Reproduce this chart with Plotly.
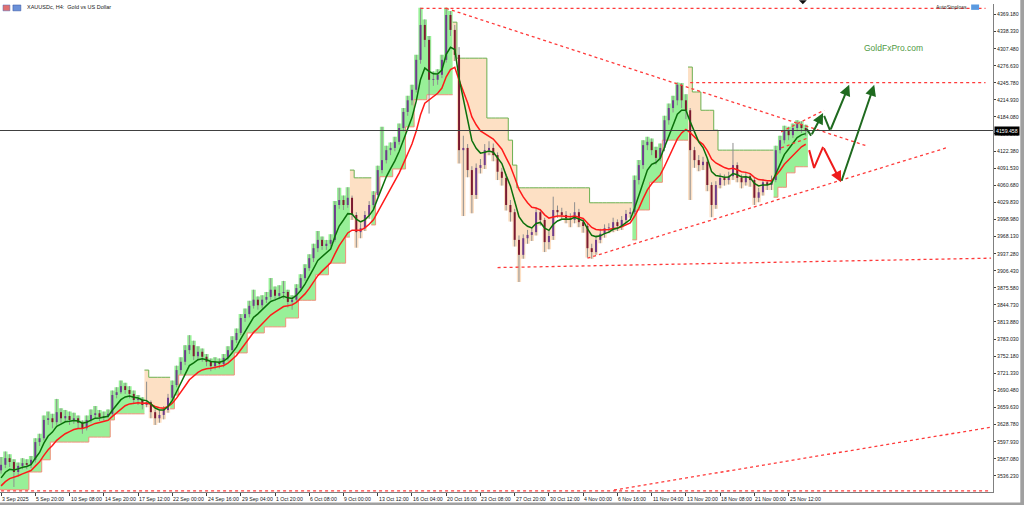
import plotly.graph_objects as go

# ---------------- data ----------------
date_labels = ["3 Sep 2025", "5 Sep 20:00", "10 Sep 08:00", "14 Sep 20:00", "17 Sep 12:00",
               "22 Sep 00:00", "24 Sep 16:00", "29 Sep 04:00", "1 Oct 20:00", "6 Oct 08:00",
               "9 Oct 00:00", "13 Oct 12:00", "16 Oct 04:00", "20 Oct 16:00", "23 Oct 08:00",
               "27 Oct 20:00", "30 Oct 12:00", "4 Nov 00:00", "6 Nov 16:00", "11 Nov 04:00",
               "13 Nov 20:00", "18 Nov 08:00", "21 Nov 00:00", "25 Nov 12:00"]
bars_per_label = 16
bars_per_candle = 2

first_open = 3546.0
close = [3556, 3568, 3561, 3543, 3554, 3559, 3556, 3565, 3597, 3604,
         3637, 3640, 3633, 3651, 3640, 3644, 3637, 3640, 3632, 3622,
         3637, 3646, 3649, 3642, 3644, 3648, 3682, 3687, 3698, 3691,
         3684, 3673, 3673, 3664, 3669, 3651, 3640, 3646, 3655, 3677,
         3700, 3727, 3742, 3763, 3772, 3752, 3760, 3751, 3742, 3734,
         3742, 3738, 3749, 3763, 3781, 3794, 3821, 3828, 3843, 3854,
         3844, 3854, 3859, 3872, 3861, 3866, 3868, 3850, 3854, 3875,
         3893, 3911, 3929, 3947, 3962, 3951, 3955, 3962, 4025, 4034,
         4025, 4038, 4007, 3976, 3983, 4007, 4025, 4043, 4088, 4106,
         4124, 4128, 4139, 4164, 4193, 4214, 4233, 4287, 4350, 4323,
         4251, 4251, 4260, 4287, 4368, 4341, 4296, 4124, 4128, 4088,
         4043, 4092, 4097, 4124, 4128, 4115, 4085, 4074, 4025, 4012,
         3962, 3935, 3965, 3971, 3976, 4012, 3998, 3958, 3969, 4016,
         4012, 4007, 4001, 3998, 4012, 3994, 3987, 3947, 3940, 3962,
         3973, 3983, 3983, 3994, 3987, 3998, 4009, 4012, 4070, 4097,
         4133, 4139, 4124, 4110, 4128, 4178, 4200, 4214, 4242, 4214,
         4196, 4124, 4106, 4097, 4103, 4061, 4025, 4061, 4074, 4070,
         4077, 4097, 4074, 4066, 4077, 4070, 4038, 4048, 4066, 4061,
         4070, 4124, 4142, 4160, 4151, 4164, 4171, 4164, 4159.458]
high = [3570, 3580, 3575, 3566, 3560, 3568, 3566, 3572, 3604, 3612,
        3645, 3652, 3648, 3675, 3658, 3655, 3652, 3650, 3645, 3636,
        3645, 3656, 3662, 3655, 3652, 3656, 3690, 3696, 3708, 3704,
        3698, 3690, 3682, 3678, 3706, 3672, 3656, 3654, 3662, 3684,
        3708, 3735, 3750, 3772, 3790, 3780, 3770, 3766, 3756, 3748,
        3750, 3748, 3756, 3770, 3788, 3802, 3828, 3838, 3852, 3872,
        3860, 3862, 3868, 3893, 3878, 3880, 3888, 3872, 3862, 3882,
        3900, 3918, 3936, 3955, 3978, 3968, 3962, 3972, 4032, 4056,
        4042, 4057, 4042, 4012, 3992, 4014, 4032, 4050, 4096, 4166,
        4132, 4138, 4148, 4172, 4200, 4222, 4242, 4296, 4381, 4360,
        4330, 4266, 4270, 4296, 4381, 4375, 4350, 4310, 4150, 4135,
        4095, 4100, 4108, 4135, 4140, 4136, 4120, 4092, 4080, 4034,
        4018, 3970, 3972, 3980, 3984, 4020, 4018, 4002, 3978, 4040,
        4024, 4020, 4014, 4010, 4030, 4018, 4000, 3992, 3955, 3970,
        3982, 3990, 3992, 4002, 3999, 4005, 4016, 4020, 4078, 4106,
        4142, 4148, 4145, 4130, 4136, 4186, 4208, 4222, 4246, 4245,
        4225, 4200, 4130, 4115, 4112, 4108, 4066, 4068, 4082, 4080,
        4085, 4137, 4102, 4080, 4085, 4082, 4074, 4056, 4072, 4070,
        4078, 4132, 4150, 4168, 4166, 4172, 4178, 4176, 4170]
low = [3540, 3550, 3552, 3516, 3535, 3548, 3548, 3550, 3560, 3590,
       3600, 3628, 3622, 3628, 3632, 3634, 3628, 3630, 3622, 3612,
       3618, 3632, 3640, 3635, 3636, 3640, 3645, 3676, 3684, 3684,
       3676, 3666, 3664, 3656, 3660, 3640, 3628, 3632, 3638, 3650,
       3672, 3696, 3720, 3736, 3756, 3745, 3745, 3742, 3734, 3725,
       3728, 3730, 3732, 3744, 3758, 3776, 3790, 3814, 3822, 3838,
       3836, 3838, 3848, 3854, 3852, 3855, 3856, 3840, 3836, 3850,
       3870, 3888, 3906, 3922, 3940, 3944, 3944, 3950, 3958, 4018,
       4016, 4020, 3998, 3948, 3965, 3978, 4000, 4018, 4040, 4082,
       4100, 4115, 4122, 4134, 4158, 4186, 4205, 4228, 4280, 4310,
       4190, 4240, 4242, 4254, 4282, 4330, 4285, 4100, 4005, 4075,
       4010, 4036, 4082, 4090, 4115, 4104, 4070, 4060, 4015, 3995,
       3950, 3886, 3928, 3955, 3960, 3970, 3988, 3940, 3945, 3962,
       4002, 3998, 3992, 3985, 3992, 3985, 3975, 3930, 3928, 3935,
       3956, 3966, 3974, 3976, 3978, 3980, 3992, 4002, 4008, 4062,
       4090, 4124, 4115, 4098, 4104, 4122, 4170, 4192, 4205, 4200,
       4180, 4034, 4092, 4086, 4088, 4050, 4003, 4018, 4055, 4060,
       4062, 4070, 4066, 4055, 4060, 4058, 4025, 4030, 4042, 4052,
       4052, 4066, 4118, 4136, 4142, 4146, 4158, 4155, 4150]
last_price = 4159.458

# trailing-stop band: trend runs and stop level change points (candle index, price)
trend_dir = ["up", "down", "up", "down", "up", "down", "up", "down", "up"]
trend_start = [0, 34, 40, 82, 87, 106, 148, 161, 181]
stop_k = [0, 7, 10, 12, 21, 26, 27, 34, 35, 40, 41, 42, 55, 58, 62, 67, 70, 74, 77, 81,
          82, 83, 87, 88, 89, 92, 95, 97, 100, 106, 107, 114, 119, 120, 121, 138,
          148, 149, 152, 155, 161, 162, 164, 167, 168, 181, 182, 184, 186]
stop_p = [3511, 3543, 3565, 3597, 3606, 3637, 3648, 3727, 3714, 3657, 3682, 3718, 3758, 3794,
          3805, 3821, 3853, 3899, 3920, 3967, 4088, 4074, 3989, 4047, 4076, 4090, 4166, 4215,
          4224, 4355, 4290, 4182, 4142, 4097, 4056, 4029, 3962, 4016, 4066, 4142,
          4274, 4229, 4196, 4160, 4124, 4039, 4057, 4083, 4094]

ema_fast_period = 6
ema_slow_period = 12
ema_fast_seed = 3523
ema_slow_seed = 3511

y_tick_start = 3536.23
y_tick_step = 30.85
y_tick_count = 28

# dotted trend lines: (bar index, price) -> (bar index, price)
tl_x0 = [196, 208, 322, 232, 274, 286.4, 0, 364.5, 364.5]
tl_p0 = [4380, 4380, 4246, 3912, 3929, 3510.5, 3509, 4157, 4128]
tl_x1 = [460, 405, 460, 462.6, 441.6, 462.6, 462.6, 384.6, 377]
tl_p1 = [4380, 4131, 4246, 3929, 4128, 3624, 3509, 4196, 4146]

# projected paths (bar index, price); last segment ends with an arrow head
arrow_colors = ["#1f6a1f", "#1f6a1f", "#ee1c1c", "#1f6a1f"]
arrow_x = [[376.5, 378.5, 384.1], [384.6, 387.4, 396.3], [377.6, 379.9, 384.1, 392.5], [392.5, 408.0]]
arrow_p = [[4162, 4150, 4191], [4186, 4159, 4242], [4124, 4092, 4130, 4066], [4066, 4242]]

# ---------------- build ----------------
n = len(close)
xb = [bars_per_candle * k for k in range(n)]
opn = [first_open] + close[:-1]


def ema(vals, period, seed):
    a = 2.0 / (period + 1)
    e = seed
    out = []
    for v in vals:
        e = e + a * (v - e)
        out.append(e)
    return out


stop = []
j = 0
for k in range(n):
    while j + 1 < len(stop_k) and stop_k[j + 1] <= k:
        j += 1
    stop.append(stop_p[j])

fig = go.Figure()
FONT = "Liberation Sans"

# band fills
for i, d in enumerate(trend_dir):
    s = trend_start[i]
    e = trend_start[i + 1] if i + 1 < len(trend_start) else n
    xs = [xb[k] - 1 for k in range(s, e)] + [xb[e - 1] + 1]
    if d == "up":
        bnd = [high[k] for k in range(s, e)] + [high[e - 1]]
        fc, lc = "#98f098", "#f0907a"
    else:
        bnd = [low[k] for k in range(s, e)] + [low[e - 1]]
        fc, lc = "#fde0c4", "#6cb050"
    sv = [stop[k] for k in range(s, e)] + [stop[e - 1]]
    fig.add_trace(go.Scatter(x=xs, y=bnd, mode="lines", line=dict(width=0, shape="hv"),
                             hoverinfo="skip", showlegend=False))
    fig.add_trace(go.Scatter(x=xs, y=sv, mode="lines", fill="tonexty", fillcolor=fc,
                             line=dict(width=1, color=lc, shape="hv"),
                             hoverinfo="skip", showlegend=False))

# candles drawn as line segments (wicks + bodies)
wx, wy = [], []
ux, uy, dx, dy = [], [], [], []
for k in range(n):
    wx += [xb[k], xb[k], None]
    wy += [low[k], high[k], None]
    o, c = opn[k], close[k]
    if c >= o:
        ux += [xb[k], xb[k], None]
        uy += [o, max(c, o + 1.5), None]
    else:
        dx += [xb[k], xb[k], None]
        dy += [o, c, None]
fig.add_trace(go.Scatter(x=wx, y=wy, mode="lines", line=dict(color="#8e8e8e", width=1),
                         hoverinfo="skip", showlegend=False))
fig.add_trace(go.Scatter(x=ux, y=uy, mode="lines", line=dict(color="#6e3c8c", width=2),
                         hoverinfo="skip", showlegend=False))
fig.add_trace(go.Scatter(x=dx, y=dy, mode="lines", line=dict(color="#7c1a30", width=2),
                         hoverinfo="skip", showlegend=False))

# moving averages
fig.add_trace(go.Scatter(x=xb, y=ema(close, ema_slow_period, ema_slow_seed), mode="lines",
                         line=dict(color="#ff1a1a", width=1.5), showlegend=False))
fig.add_trace(go.Scatter(x=xb, y=ema(close, ema_fast_period, ema_fast_seed), mode="lines",
                         line=dict(color="#0b700b", width=1.5), showlegend=False))

# dotted trend lines
for a, b, c, d in zip(tl_x0, tl_p0, tl_x1, tl_p1):
    fig.add_trace(go.Scatter(x=[a, c], y=[b, d], mode="lines",
                             line=dict(color="#ff3a3a", width=1.3, dash="dot"),
                             showlegend=False, hoverinfo="skip"))

# current price line
fig.add_hline(y=last_price, line=dict(color="#404040", width=1))

# arrows
annotations = []
for col, axs, aps in zip(arrow_colors, arrow_x, arrow_p):
    if len(axs) > 2:
        fig.add_trace(go.Scatter(x=axs[:-1], y=aps[:-1], mode="lines",
                                 line=dict(color=col, width=2), showlegend=False, hoverinfo="skip"))
    annotations.append(dict(x=axs[-1], y=aps[-1], ax=axs[-2], ay=aps[-2], xref="x", yref="y",
                            axref="x", ayref="y", showarrow=True, arrowhead=2, arrowsize=1.1,
                            arrowwidth=2, arrowcolor=col, text=""))

yt = [y_tick_start + y_tick_step * i for i in range(y_tick_count)]
xt = [bars_per_label * i for i in range(len(date_labels))]

# axis labels as left-aligned text (MetaTrader style)
for v in yt:
    annotations.append(dict(x=1.0, y=v, xref="paper", yref="y", xanchor="left", yanchor="middle",
                            xshift=2, text="%.3f" % v, showarrow=False,
                            font=dict(family=FONT, size=5.2, color="#202020")))
for v, t in zip(xt, date_labels):
    annotations.append(dict(x=v, y=0, xref="x", yref="paper", xanchor="left", yanchor="top",
                            yshift=-2, xshift=-1, text=t, showarrow=False,
                            font=dict(family=FONT, size=5.2, color="#202020")))

annotations += [
    dict(x=0.025, y=0.994, xref="paper", yref="paper", xanchor="left", yanchor="middle",
         text="XAUUSDc, H4:  Gold vs US Dollar", showarrow=False,
         font=dict(family=FONT, size=5.5, color="#202020")),
    dict(x=0.9, y=0.91, xref="paper", yref="paper", xanchor="center", yanchor="middle",
         text="GoldFxPro.com", showarrow=False, font=dict(family=FONT, size=8.5, color="#4f9a45")),
    dict(x=0.976, y=0.994, xref="paper", yref="paper", xanchor="right", yanchor="middle",
         text="AutoStoploss", showarrow=False, font=dict(family=FONT, size=5.2, color="#303030")),
    dict(x=1.0, y=last_price, xref="paper", yref="y", xanchor="left", yanchor="middle",
         text="4159.458", showarrow=False, bgcolor="#000000", borderpad=1, xshift=1,
         font=dict(family=FONT, size=5.2, color="#ffffff")),
]

shapes = [
    dict(type="rect", xref="paper", yref="paper", x0=-0.01, x1=1.05, y0=1.002, y1=1.02,
         fillcolor="#8a8a8a", line=dict(width=0), layer="above"),
    dict(type="rect", xref="paper", yref="paper", x0=1.0275, x1=1.05, y0=-0.03, y1=1.01,
         fillcolor="#a0a0a0", line=dict(width=0), layer="above"),
    dict(type="rect", xref="paper", yref="paper", x0=-0.01, x1=1.05, y0=-0.03, y1=-0.0215,
         fillcolor="#a0a0a0", line=dict(width=0), layer="above"),
    dict(type="rect", xref="paper", yref="paper", x0=0.003, x1=0.010, y0=0.998, y1=0.986,
         fillcolor="#e07070", line=dict(width=0.5, color="#5070c0")),
    dict(type="rect", xref="paper", yref="paper", x0=0.013, x1=0.021, y0=0.998, y1=0.986,
         fillcolor="#6a90d8", line=dict(width=0.5, color="#3050a0")),
    dict(type="rect", xref="paper", yref="paper", x0=0.978, x1=0.986, y0=0.999, y1=0.988,
         fillcolor="#5a9ae0", line=dict(width=0)),
    dict(type="path", xref="paper", yref="paper",
         path="M 0.8045 1.0075 L 0.8125 1.0075 L 0.8085 0.9995 Z",
         fillcolor="#101010", line=dict(width=0), layer="above"),
]

fig.update_layout(
    width=1024, height=505,
    margin=dict(l=0, r=31, t=4, b=13, autoexpand=False),
    paper_bgcolor="#ffffff", plot_bgcolor="#ffffff",
    showlegend=False, annotations=annotations, shapes=shapes,
    font=dict(family=FONT, size=6, color="#202020"),
    xaxis=dict(range=[-0.5, 463.5], showgrid=False, zeroline=False,
               tickmode="array", tickvals=xt, ticks="outside", ticklen=3,
               tickcolor="#404040", showticklabels=False,
               showline=True, linecolor="#808080", linewidth=1),
    yaxis=dict(range=[3506.9, 4387.8], side="right", showgrid=False, zeroline=False,
               tickmode="array", tickvals=yt, ticks="outside", ticklen=2, tickcolor="#404040",
               showticklabels=False, showline=True, linecolor="#808080", linewidth=1),
)

fig.write_html("out.html", config={"displayModeBar": False},
               post_script="document.body.style.margin='0';document.body.style.padding='0';"
                           "document.body.style.overflow='hidden';")
